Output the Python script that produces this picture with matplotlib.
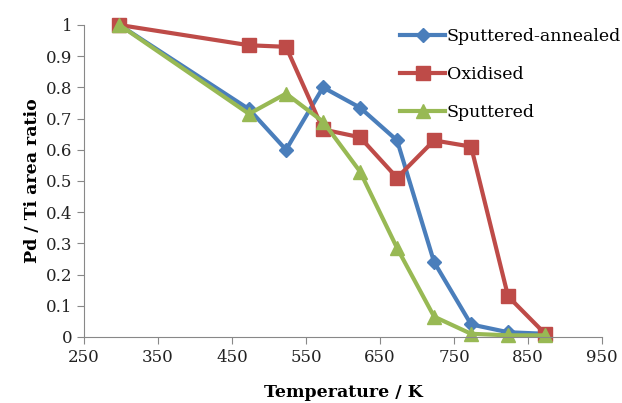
import matplotlib
matplotlib.use("Agg")
import matplotlib.pyplot as plt
from matplotlib.ticker import FuncFormatter

temps = [298, 473, 523, 573, 623, 673, 723, 773, 823, 873]
sputtered_annealed = [1.0, 0.73, 0.60, 0.80, 0.735, 0.63, 0.24, 0.04, 0.015, 0.01]
oxidised = [1.0, 0.935, 0.93, 0.665, 0.64, 0.51, 0.63, 0.61, 0.13, 0.01]
sputtered = [1.0, 0.715, 0.78, 0.69, 0.53, 0.285, 0.065, 0.01, 0.005, 0.005]
series_names = ["Sputtered-annealed", "Oxidised", "Sputtered"]
x_ticks = [250, 350, 450, 550, 650, 750, 850, 950]
y_ticks = [0, 0.1, 0.2, 0.3, 0.4, 0.5, 0.6, 0.7, 0.8, 0.9, 1.0]

plt.rcParams['font.family'] = ['DejaVu Serif']

fig = plt.figure(figsize=(6.22, 4.03), dpi=100)
ax = fig.add_axes([0.135, 0.164, 0.833, 0.774])

ax.plot(temps, sputtered_annealed, color='#4A7EBB', marker='D', markersize=7.5, lw=3, label=series_names[0])
ax.plot(temps, oxidised, color='#BE4B48', marker='s', markersize=9.5, lw=3, label=series_names[1])
ax.plot(temps, sputtered, color='#98B954', marker='^', markersize=9.5, lw=3, label=series_names[2])

ax.set_xlim(250, 950)
ax.set_ylim(0, 1)
ax.set_xticks(x_ticks)
ax.set_yticks(y_ticks)
ax.yaxis.set_major_formatter(FuncFormatter(lambda v, p: "%g" % round(v, 1)))
for s in ['top', 'right']:
    ax.spines[s].set_visible(False)
for s in ['left', 'bottom']:
    ax.spines[s].set_color('#888888')
ax.tick_params(axis='both', colors='#888888', labelcolor='#222222', labelsize=12, length=5, direction='out')
ax.set_xlabel("Temperature / K", fontsize=12.5, fontweight='bold', labelpad=13)
ax.set_ylabel("Pd / Ti area ratio", fontsize=12.5, fontweight='bold', labelpad=3)
ax.legend(loc='upper left', bbox_to_anchor=(400 / 622, (403 - 28) / 403), bbox_transform=fig.transFigure,
          frameon=False, fontsize=12.5, handlelength=2.6, handletextpad=0.1, labelspacing=1.2,
          borderaxespad=0, borderpad=0)
for l in ax.lines:
    l.set_clip_on(False)

fig.savefig("out.png", dpi=100)
